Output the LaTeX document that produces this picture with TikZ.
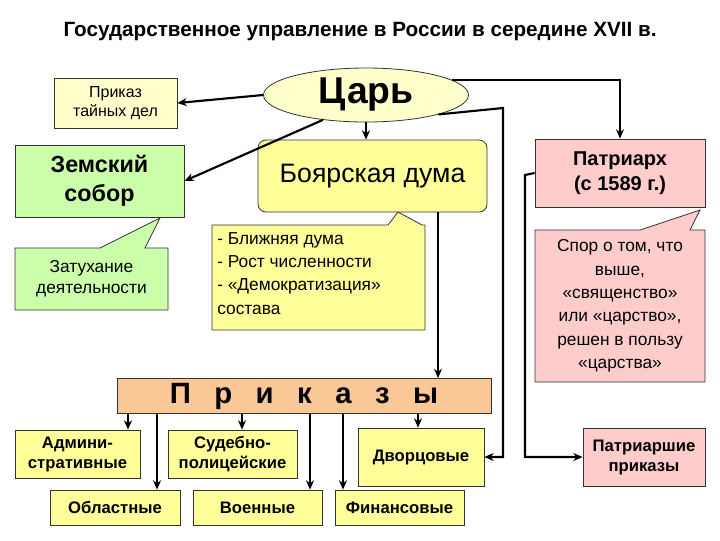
\documentclass[tikz,border=0pt]{standalone}
\usepackage{fontspec}
\setmainfont{Liberation Sans}
\usetikzlibrary{shapes.geometric,arrows.meta}
\definecolor{ly}{RGB}{255,255,204}
\definecolor{yy}{RGB}{255,255,153}
\definecolor{gg}{RGB}{204,255,170}
\definecolor{pp}{RGB}{255,204,204}
\definecolor{oo}{RGB}{250,200,150}
\begin{document}
\begin{tikzpicture}[x=0.75pt,y=-0.75pt,
  bx/.style={draw=black!80,line width=0.6pt,inner sep=0pt,align=center},
  ar/.style={line width=1.6pt,-{Stealth[length=7pt,width=6pt]}},
  bs/.style={font=\bfseries\fontsize{12.5}{15}\selectfont}]
\useasboundingbox (0,0) rectangle (720,540);
\node[font=\bfseries\fontsize{15.5}{18}\selectfont] (title) at (360,32) {Государственное управление в России в середине XVII в.};
\node[bx,ellipse,fill=ly,minimum height=54*0.75pt,minimum width=205*0.75pt,font=\bfseries\fontsize{28}{30}\selectfont] (tsar) at (366,95) {Царь};
\node[bx,fill=ly,minimum width=123*0.75pt,minimum height=50*0.75pt,font=\fontsize{12}{14}\selectfont] (pt) at (115.5,103) {Приказ\\тайных дел};
\node[bx,fill=gg,minimum width=169*0.75pt,minimum height=72*0.75pt,font=\bfseries\fontsize{17.5}{22}\selectfont] (zs) at (99.5,181) {Земский\\собор};
\node[bx,fill=yy,rounded corners=6pt,minimum width=229*0.75pt,minimum height=72*0.75pt,font=\fontsize{20}{22}\selectfont] (bd) at (372.5,176) {Боярская дума};
\node[bx,fill=pp,minimum width=170*0.75pt,minimum height=68*0.75pt,font=\bfseries\fontsize{15}{19}\selectfont] (pa) at (620,173) {Патриарх\\(с 1589 г.)};
% callouts
\draw[draw=black!80,line width=0.6pt,fill=gg] (15,248) -- (100,248) -- (160,218) -- (145,248) -- (168,248) -- (168,310) -- (15,310) -- cycle;
\node[align=center,font=\fontsize{13}{15.5}\selectfont] (zt) at (91.5,279) {Затухание\\деятельности};
\draw[draw=black!80,line width=0.6pt,fill=yy] (212,225) -- (388,225) -- (398,212) -- (422,225) -- (425,225) -- (425,330) -- (212,330) -- cycle;
\node[align=left,anchor=north west,font=\fontsize{13}{17.5}\selectfont,inner sep=0pt] (bl) at (217,232) {- Ближняя дума\\- Рост численности\\- «Демократизация»\\состава};
\draw[draw=black!80,line width=0.6pt,fill=pp] (535,230) -- (640,230) -- (700,210) -- (690,230) -- (705,230) -- (705,382) -- (535,382) -- cycle;
\node[align=center,font=\fontsize{13}{17.5}\selectfont] (sp) at (620,306) {Спор о том, что\\выше,\\«священство»\\или «царство»,\\решен в пользу\\«царства»};
\node[bx,fill=oo,minimum width=374*0.75pt,minimum height=35*0.75pt,font=\bfseries\fontsize{22}{24}\selectfont] (pr) at (304,396) {П\hspace{0.8em}р\hspace{0.8em}и\hspace{0.8em}к\hspace{0.8em}а\hspace{0.8em}з\hspace{0.8em}ы};
\node[bx,fill=yy,minimum width=125*0.75pt,minimum height=48*0.75pt,bs] (ad) at (77.5,454) {Админи-\\стративные};
\node[bx,fill=yy,minimum width=129*0.75pt,minimum height=48*0.75pt,bs] (su) at (232.5,454) {Судебно-\\полицейские};
\node[bx,fill=yy,minimum width=126*0.75pt,minimum height=58*0.75pt,bs] (dv) at (421,457) {Дворцовые};
\node[bx,fill=pp,minimum width=122*0.75pt,minimum height=58*0.75pt,bs] (pp) at (644,457) {Патриаршие\\приказы};
\node[bx,fill=yy,minimum width=130*0.75pt,minimum height=35*0.75pt,bs] (ob) at (115,507.5) {Областные};
\node[bx,fill=yy,minimum width=129*0.75pt,minimum height=35*0.75pt,bs] (vo) at (257.5,507.5) {Военные};
\node[bx,fill=yy,minimum width=129*0.75pt,minimum height=35*0.75pt,bs] (fi) at (399.5,507.5) {Финансовые};
% connectors
\draw[ar] (tsar.west) -- (pt.east);
\draw[ar] (tsar.210) -- (zs.east);
\draw[ar] (tsar.south) -- (tsar.south|-bd.north);
\draw[ar] (tsar.10) -| (pa.north);
\draw[ar] (tsar.-15) -- (503,108) |- (dv.east);
\draw[ar] (bd.south-|438,0) -- (pr.north-|438,0);
\draw[ar] (pa.west) -- (525,175) |- (pp.west);
\draw[ar] (pr.south-|128,0) -- (ad.north-|128,0);
\draw[ar] (pr.south-|157,0) -- (ob.north-|157,0);
\draw[ar] (pr.south-|242,0) -- (su.north-|242,0);
\draw[ar] (pr.south-|310,0) -- (vo.north-|310,0);
\draw[ar] (pr.south-|343,0) -- (fi.north-|343,0);
\draw[ar] (pr.south-|418,0) -- (dv.north-|418,0);
\end{tikzpicture}
\end{document}
